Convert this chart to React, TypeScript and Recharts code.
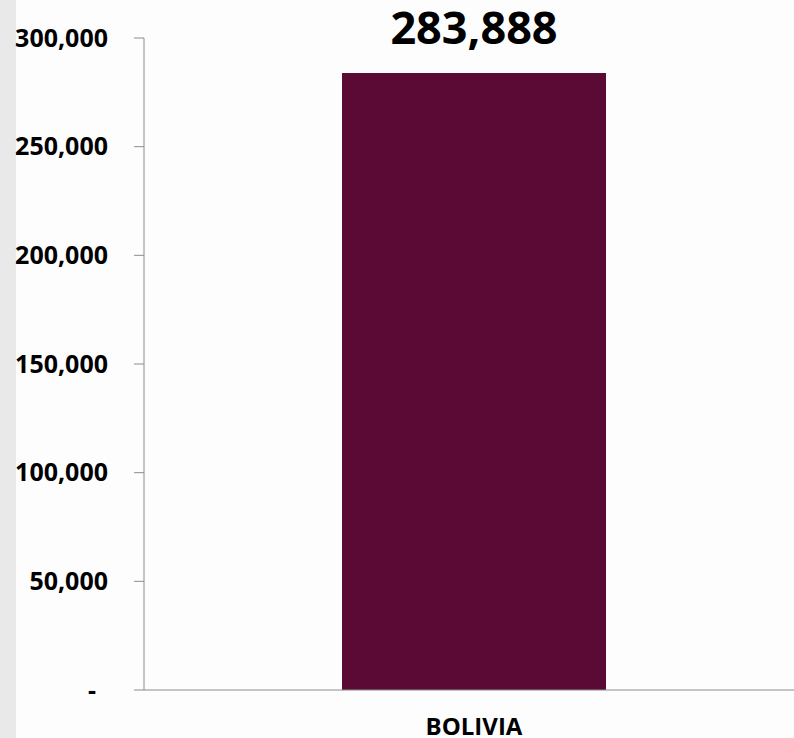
import React from 'react';
import { BarChart, Bar, XAxis, YAxis, LabelList } from 'recharts';

const countries = ['BOLIVIA'];
const totals = [283888];
const yTicks = [0, 50000, 100000, 150000, 200000, 250000, 300000];

const data = countries.map((c, i) => ({ country: c, total: totals[i] }));

const fmt = (v: number) => v.toLocaleString('en-US');

const YTick = ({ x, y, payload }: any) => {
    const isZero = payload.value === 0;
    return (
        <text
            x={isZero ? x - 12 : x}
            y={y}
            dy="0.35em"
            textAnchor="end"
            fontFamily="Open Sans, sans-serif"
            fontWeight={700}
            fontSize={25}
            fill="#000"
        >
            {isZero ? '-' : fmt(payload.value)}
        </text>
    );
};

export default function App() {
    return (
        <div style={{ position: 'absolute', left: 0, top: 0, width: 794, height: 738, background: '#fdfdfd', overflow: 'hidden' }}>
            {/* light grey strip down the left edge */}
            <div style={{ position: 'absolute', left: 0, top: 0, width: 16, height: 738, background: '#e8e9e8' }} />
            <div style={{ position: 'absolute', left: 0, top: 0 }}>
                <BarChart
                    width={794}
                    height={738}
                    data={data}
                    margin={{ top: 38, right: -10, left: 0, bottom: 0 }}
                    barCategoryGap="30%"
                >
                    <XAxis
                        dataKey="country"
                        height={48}
                        stroke="#8c8c8c"
                        tickLine={false}
                        tickMargin={22}
                        tick={{ fill: '#000', fontFamily: 'Open Sans, sans-serif', fontWeight: 700, fontSize: 24 }}
                    />
                    <YAxis
                        width={144}
                        domain={[0, 300000]}
                        ticks={yTicks}
                        interval={0}
                        stroke="#8c8c8c"
                        tickSize={10}
                        tickMargin={26}
                        tick={<YTick />}
                    />
                    <Bar dataKey="total" fill="#5a0a35" isAnimationActive={false}>
                        <LabelList
                            dataKey="total"
                            position="top"
                            offset={29}
                            formatter={(v: any) => fmt(Number(v))}
                            fill="#000"
                            fontFamily="Open Sans, sans-serif"
                            fontWeight={700}
                            fontSize={45}
                        />
                    </Bar>
                </BarChart>
            </div>
        </div>
    );
}
